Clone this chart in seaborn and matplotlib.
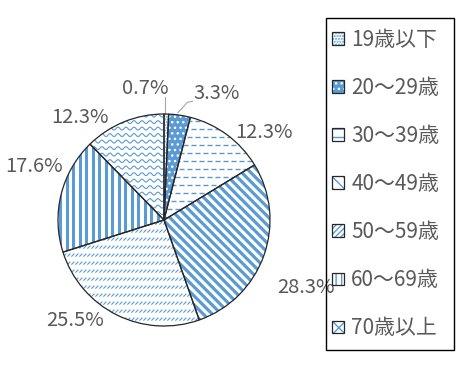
import matplotlib
matplotlib.use("Agg")
import matplotlib.pyplot as plt
import numpy as np
import seaborn as sns
from matplotlib.patches import Patch, Rectangle
from matplotlib.collections import LineCollection

sns.set_theme(style="white")
plt.rcParams['font.family'] = ['Noto Sans CJK JP', 'DejaVu Sans']

categories = ["19歳以下", "20～29歳", "30～39歳", "40～49歳", "50～59歳", "60～69歳", "70歳以上"]
values = [0.7, 3.3, 12.3, 28.3, 25.5, 17.6, 12.3]
pct_labels = ["0.7%", "3.3%", "12.3%", "28.3%", "25.5%", "17.6%", "12.3%"]

blue = "#5B9BD5"
text_col = "#595959"
edge_col = "#262626"
faces = ["white", blue, "white", "white", "white", "white", "white"]

label_pos = [(-0.18, 1.24), (0.50, 1.19), (0.94, 0.83), (1.34, -0.64),
             (-0.84, -0.95), (-1.23, 0.50), (-0.79, 0.97)]

fig = plt.figure(figsize=(4.66, 3.70), dpi=100)
ax = fig.add_axes([58/466, (370-220-106)/370, 212/466, 212/370])

wedges, _ = ax.pie(values, startangle=90, counterclock=False,
                   colors=faces, wedgeprops=dict(linewidth=0))
# simple hatches for the two thin wedges
wedges[0].set_hatch("......"); wedges[0].set_edgecolor(blue)
wedges[1].set_hatch("..."); wedges[1].set_edgecolor("white")

px = 1 / 106
R = 1.1


def texture(wedge, segs, lw):
    lc = LineCollection(segs, colors=blue, linewidths=lw, zorder=2)
    ax.add_collection(lc)
    lc.set_clip_path(wedge)


# 30-39: dashed horizontal rows
segs = []
for i, y0 in enumerate(np.arange(-R, R, 8 * px)):
    off = (i % 2) * 4 * px
    for x in np.arange(-R + off, R, 8 * px):
        segs.append([(x, y0), (x + 5 * px, y0)])
texture(wedges[2], segs, 1.0)

# 40-49: wide diagonal stripes
segs = [[(c - 1.2, 1.2), (c + 1.2, -1.2)] for c in np.arange(-2.3, 2.3, 9 * px)]
texture(wedges[3], segs, 2.3)

# 50-59: rows of small slashes
segs = []
for y0 in np.arange(-R, R, 8 * px):
    for x in np.arange(-R, R, 4 * px):
        segs.append([(x, y0), (x + 3 * px, y0 + 3 * px)])
texture(wedges[4], segs, 0.8)

# 60-69: vertical stripes
segs = [[(x, -R), (x, R)] for x in np.arange(-R, R, 6.5 * px)]
texture(wedges[5], segs, 2.2)

# 70+: waves
xs = np.arange(-R, R, 1 * px)
segs = [np.column_stack([xs, y0 + 1.5 * px * np.sin(2 * np.pi * xs / (8 * px))])
        for y0 in np.arange(-R, R, 6.5 * px)]
texture(wedges[6], segs, 0.8)

ax.pie(values, startangle=90, counterclock=False,
       wedgeprops=dict(fill=False, edgecolor=edge_col, linewidth=0.9, zorder=3))

for (x, y), t in zip(label_pos, pct_labels):
    ax.text(x, y, t, ha="center", va="center", fontsize=14.5, color=text_col)
# leader lines
ax.plot([0.13, 0.22, 0.27], [1.01, 1.11, 1.12], color="#a6a6a6", lw=0.8, clip_on=False)
ax.plot([0.01, 0.01], [1.0, 1.16], color="#a6a6a6", lw=0.8, clip_on=False)

ax.set_xlim(-1, 1)
ax.set_ylim(-1, 1)
ax.set_aspect("equal")
ax.axis("off")

# legend frame drawn explicitly
fig.patches.append(Rectangle((326/466, 1 - 350/370), 128/466, 332/370,
                             transform=fig.transFigure, fill=False,
                             edgecolor="black", linewidth=1.0))

leg_hatches = ["......", "...", "--", "\\\\\\", "//////", "|||", "xxx"]
leg_hcols = [blue, "white", blue, blue, blue, blue, blue]
leg_lw = [0.8, 1.2, 1.0, 2.0, 0.6, 2.0, 0.7]
handles = []
for f, h, hc, lw in zip(faces, leg_hatches, leg_hcols, leg_lw):
    p1 = Patch(facecolor=f, edgecolor=hc, hatch=h, linewidth=0)
    if hasattr(p1, "set_hatch_linewidth"):
        p1.set_hatch_linewidth(lw)
    p2 = Patch(fill=False, edgecolor=edge_col, linewidth=0.9)
    handles.append((p1, p2))

leg = fig.legend(handles, categories, loc="upper left",
                 bbox_to_anchor=(332/466, 1 - 29/370), bbox_transform=fig.transFigure,
                 frameon=False,
                 handlelength=0.56, handleheight=0.56, handletextpad=0.37,
                 labelspacing=1.25, borderpad=0, borderaxespad=0,
                 prop={"size": 15}, labelcolor=text_col)

fig.savefig("out.png", dpi=100)
